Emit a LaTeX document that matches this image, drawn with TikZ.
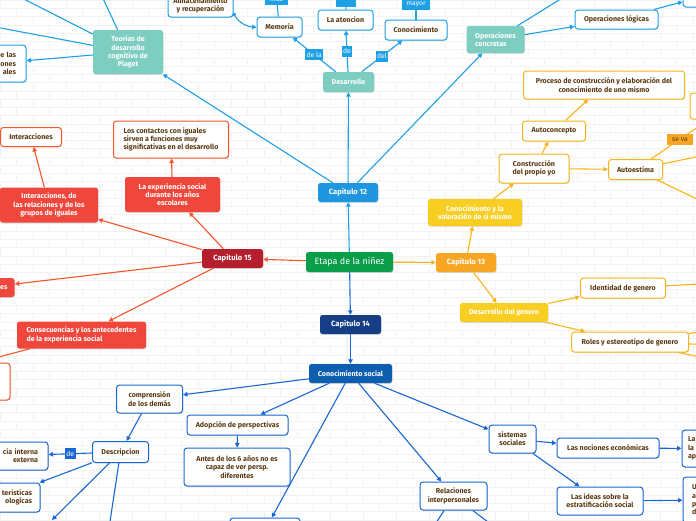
\documentclass[tikz,border=0pt]{standalone}
\usepackage{fontspec}
\setsansfont{Fira Sans}
\usetikzlibrary{arrows.meta,shadows}
\definecolor{rootgreen}{HTML}{0A9E4A}
\definecolor{c12line}{HTML}{1EA0E6}
\definecolor{c12fill}{HTML}{1F96E0}
\definecolor{tealfill}{HTML}{7ECDC1}
\definecolor{c13line}{HTML}{F9B41A}
\definecolor{c13fill}{HTML}{F6A623}
\definecolor{yelfill}{HTML}{F8CE22}
\definecolor{c15line}{HTML}{F4552A}
\definecolor{c15fill}{HTML}{B51F2D}
\definecolor{redfill}{HTML}{F0473D}
\definecolor{c14line}{HTML}{1A66D2}
\definecolor{c14fill}{HTML}{163E86}
\definecolor{socfill}{HTML}{0D5EAF}
\definecolor{leafbrown}{HTML}{5C3A12}
\newcommand{\mapfont}{\sffamily\bfseries\fontsize{7.1}{8.3}\selectfont}
\tikzset{
  every node/.style={font=\mapfont},
  brick/.style={draw=black!5, line width=0.5pt},
  shade/.style={drop shadow={shadow xshift=0.5pt, shadow yshift=-0.9pt, opacity=0.25}},
  topic/.style={shade, rounded corners=2.5pt, text=white, align=center, inner sep=1pt, minimum height=20pt},
  capbox/.style={topic, minimum width=60pt, minimum height=19pt, font=\sffamily\bfseries\fontsize{7.6}{9}\selectfont},
  leaf/.style={shade, rounded corners=3pt, fill=white, line width=1pt, text=leafbrown, align=center, inner sep=1pt, minimum height=20pt},
  leafA/.style={leaf, draw=c12line},
  leafB/.style={leaf, draw=c13line},
  leafC/.style={leaf, draw=c15line},
  leafD/.style={leaf, draw=c14line},
  lbl/.style={text=white, font=\sffamily\fontsize{6.8}{7}\selectfont, inner sep=1.5pt, minimum height=11pt},
  eA/.style={draw=c12line, line width=1.1pt, ->},
  eB/.style={draw=c13line, line width=1.1pt, ->},
  eC/.style={draw=c15line, line width=1.1pt, ->},
  eD/.style={draw=c14line, line width=1.1pt, ->}
}
\begin{document}
\begin{tikzpicture}[x=1pt, y=-1pt, >={Triangle[length=4.5pt,width=4.5pt]}]
\useasboundingbox (0,0) rectangle (696,520);
\clip (0,0) rectangle (696,520);
\fill[white] (0,0) rectangle (696,520);
\foreach \r in {0,...,63}{
  \draw[brick] (0,\r*8.25) -- (696,\r*8.25);
  \pgfmathsetmacro{\off}{mod(\r,2)*16.5}
  \foreach \c in {0,...,21} \draw[brick] (\off+\c*33,\r*8.25) -- ++(0,8.25);
}

\node[topic, fill=rootgreen, minimum width=87pt, font=\sffamily\fontsize{9}{10}\selectfont] (etapa) at (349.5,262) {Etapa de la niñez};
\node[capbox, fill=c12fill] (cap12) at (348,192.5) {Capitulo 12};
\node[capbox, fill=c13fill] (cap13) at (466,262.5) {Capitulo 13};
\node[capbox, fill=c14fill, minimum width=61pt] (cap14) at (350.5,324.5) {Capitulo 14};
\node[capbox, fill=c15fill, minimum width=61pt] (cap15) at (232.5,258.5) {Capitulo 15};
\draw[eA] (etapa) -- (cap12);
\draw[eB] (etapa) -- (cap13);
\draw[eD] (etapa) -- (cap14);
\draw[eC] (etapa) -- (cap15);

\node[topic, fill=tealfill, minimum width=51pt] (desa) at (348.5,82) {Desarrollo};
\node[leafA, minimum width=45pt] (mem) at (279.5,27) {Memoria};
\node[leafA, minimum width=55pt] (aten) at (345.5,20) {La atencion};
\node[leafA, minimum width=62pt] (conoc) at (416,30) {Conocimiento};
\node[lbl, fill=c12line, minimum width=23pt] (lblmas) at (276.5,-1) {más};
\node[lbl, fill=c12line, minimum width=20pt, minimum height=12pt] (lblaten) at (346,1) {};
\node[lbl, fill=c12line, minimum width=28pt] (lblmayor) at (416,4.5) {mayor};
\node[leafA, minimum width=65pt, minimum height=23pt] (alma) at (200.5,5.5) {Almacenamiento\\y recuperación};
\node[topic, fill=tealfill, minimum width=70pt, minimum height=44pt] (teo) at (128,52) {Teorías de\\desarrollo\\cognitivo de\\Piaget};
\node[leafA, minimum height=37pt, text width=46pt, inner xsep=10pt, align=right] (las) at (-7,63.5) {e las\\ones\\ales};
\node[topic, fill=tealfill, minimum width=58pt, minimum height=27pt, align=left] (opc) at (495.5,39.5) {Operaciones\\concretas};
\node[leafA, minimum width=83pt, minimum height=19pt] (opl) at (616.5,19.5) {Operaciones lógicas};
\node[leafA, minimum width=58pt, minimum height=26pt] (opbox) at (712,-6) {};
\coordinate (t1) at (100,-8);
\coordinate (t2) at (10,-8);
\coordinate (t3) at (-10,26);
\coordinate (o1) at (575,-10);
\draw[eA] (cap12) -- (desa);
\draw[eA] (cap12) -- (teo);
\draw[eA] (cap12) -- (opc);
\draw[eA] (desa) -- node[lbl, fill=c12line] {de la} (mem);
\draw[eA] (desa) -- node[lbl, fill=c12line] {de} (aten);
\draw[eA] (desa) -- node[lbl, fill=c12line] {del} (conoc);
\draw[eA, -] (mem) -- (lblmas);
\draw[eA, -] (aten) -- (lblaten);
\draw[eA, -] (conoc) -- (lblmayor);
\draw[eA, {Circle[length=3.5pt]}->] ([yshift=-7.5pt]alma.east) .. controls +(5,10) and +(-8,0) .. (mem.west);
\draw[eA] (teo) -- (t1);
\draw[eA] (teo) -- (t2);
\draw[eA] (teo) -- (t3);
\draw[eA] (teo) -- (las);
\draw[eA] (opc) -- (o1);
\draw[eA] (opc) -- (opl);
\draw[eA] (opl) -- (opbox);

\node[topic, fill=yelfill, minimum width=94pt, minimum height=27pt] (valor) at (475,212.5) {Conocimiento y la\\valoración de sí mismo};
\node[leafB, minimum width=70pt, minimum height=29pt] (constr) at (534,168.5) {Construcción\\del propio yo};
\node[leafB, minimum width=63pt] (autoc) at (554,131) {Autoconcepto};
\node[leafB, minimum width=161pt, minimum height=28pt] (proc) at (604,85) {Proceso de construcción y elaboración del\\conocimiento de uno mismo};
\node[leafB, minimum width=54pt] (autoe) at (635.5,169.5) {Autoestima};
\node[leafB, minimum width=60pt, minimum height=26pt] (rbox) at (720,106) {};
\node[topic, fill=yelfill, minimum width=88pt, minimum height=19pt] (gen) at (504,312.5) {Desarrollo del genero};
\node[leafB, minimum width=85pt] (ident) at (623,288) {Identidad de genero};
\node[leafB, minimum width=117pt] (roles) at (630,342) {Roles y estereotipo de genero};
\coordinate (a1) at (720,112);
\coordinate (a2) at (720,152);
\coordinate (a3) at (730,215);
\coordinate (i1) at (720,283);
\coordinate (r1) at (720,329);
\coordinate (r2) at (720,345);
\coordinate (r3) at (760,370);
\draw[eB] (cap13) -- (valor);
\draw[eB] (valor) -- (constr);
\draw[eB] (constr) -- (autoc);
\draw[eB] (autoc) -- (proc);
\draw[eB] (constr) -- (autoe);
\draw[eB] (autoe) -- node[lbl, pos=0.42, minimum width=26pt, fill=c13fill, text=leafbrown] {se va} (a1);
\draw[eB] (autoe) -- (a2);
\draw[eB] (autoe) -- (a3);
\draw[eB] (cap13) -- (gen);
\draw[eB] (gen) -- (ident);
\draw[eB] (gen) -- (roles);
\draw[eB] (ident) -- (i1);
\draw[eB] (roles) -- (r1);
\draw[eB] (roles) -- (r2);
\draw[eB] (roles) -- (r3);

\node[topic, fill=redfill, minimum width=95pt, minimum height=35pt] (expe) at (172.5,194.5) {La experiencia social\\durante los años\\escolares};
\node[leafC, minimum width=115pt, minimum height=37pt, align=left] (contac) at (171,139.5) {Los contactos con iguales\\sirven a funciones muy\\significativas en el desarrollo};
\node[topic, fill=redfill, minimum width=98pt, minimum height=35pt] (inter) at (49,205) {Interacciones, de\\las relaciones y de los\\grupos de iguales};
\node[leafC, minimum width=61pt, minimum height=19pt] (interac) at (31,137) {Interacciones};
\node[topic, fill=redfill, minimum height=19pt, text width=45pt, inner xsep=7pt, align=right] (esbox) at (-15,287.5) {es};
\node[topic, fill=redfill, minimum width=129pt, minimum height=27pt, align=left] (consec) at (81.5,335) {Consecuencias y los antecedentes\\de la experiencia social};
\node[leafC, minimum width=70pt, minimum height=37pt] (lbox) at (-25,381.5) {};
\coordinate (cs1) at (-20,362);
\draw[eC] (cap15) -- (expe);
\draw[eC] (expe) -- (contac);
\draw[eC] (cap15) -- (inter);
\draw[eC] (inter) -- (interac);
\draw[eC] (cap15) -- (esbox);
\draw[eC] (cap15) -- (consec);
\draw[eC] (consec) -- (cs1);

\node[topic, fill=socfill, minimum width=83pt, minimum height=19pt] (consoc) at (350.5,373.5) {Conocimiento social};
\node[leafD, minimum width=66pt, minimum height=28pt] (compr) at (149.5,399) {comprensión\\de los demás};
\node[leafD, minimum width=56pt, minimum height=21pt] (desc) at (120.5,452) {Descripcion};
\node[leafD, minimum height=28pt, text width=68pt, inner xsep=10pt, align=right] (cia) at (4,456) {cia interna\\externa};
\node[leafD, minimum height=29pt, text width=64pt, inner xsep=8pt, align=right] (terist) at (0,497.5) {teristicas\\ologicas};
\node[leafD, minimum width=101pt] (adop) at (237.5,425) {Adopción de perspectivas};
\node[leafD, minimum width=106pt, minimum height=38pt] (antes) at (237,467) {Antes de los 6 años no es\\capaz de ver persp.\\diferentes};
\node[leafD, minimum width=70pt, minimum height=24pt] (bot) at (265,530) {};
\node[leafD, minimum width=67pt, minimum height=28pt] (relac) at (453.5,496) {Relaciones\\interpersonales};
\node[leafD, minimum width=47pt, minimum height=28pt] (sist) at (512.5,439) {sistemas\\sociales};
\node[leafD, minimum width=102pt] (noc) at (608,448) {Las nociones económicas};
\node[leafD, minimum width=86pt, minimum height=28pt] (ideas) at (600,501) {Las ideas sobre la\\estratificación social};
\node[leafD, minimum height=37pt, text width=46pt, inner xsep=6pt, align=left] (labox) at (711,448.5) {La\\la\\ap};
\node[leafD, minimum height=46pt, text width=40pt, inner xsep=9pt, align=left] (ubox) at (712,500) {U\\a\\p\\d};
\coordinate (d1) at (52,520);
\coordinate (d2) at (108,535);
\coordinate (rl1) at (425,540);
\coordinate (rl2) at (512,540);
\draw[eD] (cap14) -- (consoc);
\draw[eD] (consoc) -- (compr);
\draw[eD] (compr) -- (desc);
\draw[eD] (desc) -- node[lbl, fill=c14line] {de} (cia);
\draw[eD] (desc) -- (terist);
\draw[eD] (desc) -- (d1);
\draw[eD] (desc) -- (d2);
\draw[eD] (consoc) -- (adop);
\draw[eD] (adop) -- (antes);
\draw[eD] (consoc) -- (bot);
\draw[eD] (consoc) -- (relac);
\draw[eD] (relac) -- (rl1);
\draw[eD] (relac) -- (rl2);
\draw[eD] (consoc) -- (sist);
\draw[eD] (sist) -- (noc);
\draw[eD] (sist) -- (ideas);
\draw[eD] (noc) -- (labox);
\draw[eD] (ideas) -- (ubox);
\end{tikzpicture}
\end{document}
